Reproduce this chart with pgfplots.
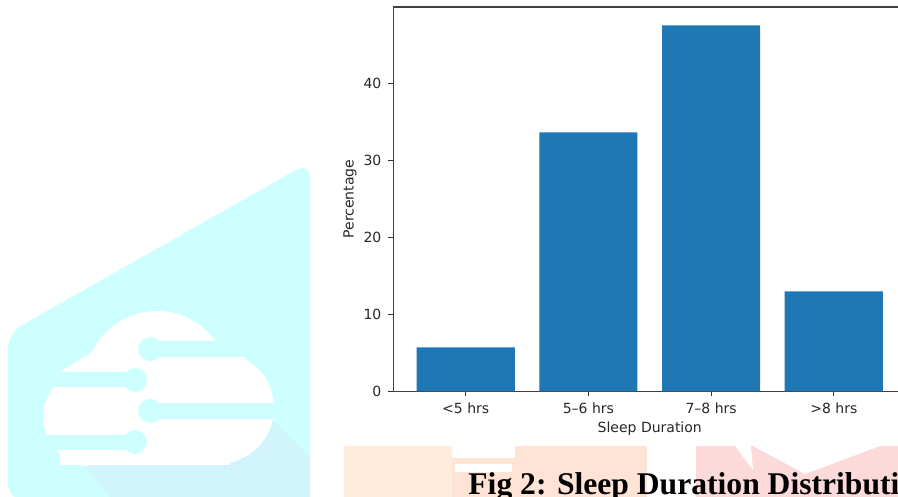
\documentclass[border=0pt]{standalone}
\usepackage{pgfplots}
\pgfplotsset{compat=1.18}
\usepackage{fontspec}
\setmainfont{DejaVu Sans}
\newfontfamily\timesfont{Liberation Serif}
\definecolor{barblue}{RGB}{31,119,180}
\definecolor{wmcyan}{RGB}{205,255,255}
\definecolor{wmshadow}{RGB}{210,244,252}
\definecolor{orA}{RGB}{255,236,218}
\definecolor{orB}{RGB}{255,228,214}
\definecolor{pkA}{RGB}{253,218,218}
\begin{document}
\begin{tikzpicture}
% faint watermark decorations of the page (pixel coordinates, y downward)
\begin{scope}[x=0.5pt,y=-0.5pt,yshift=248.5pt]
  \fill[wmcyan, rounded corners=8] (8,333) -- (310,162) -- (310,500) -- (8,500) -- cycle;
  \fill[wmshadow] (80,460) -- (110,497) -- (310,497) -- (310,457) -- (270,418) -- cycle;
  \fill[white] (157,383) circle (72);
  \fill[white] (218,408) circle (56);
  \fill[white] (60,400) rectangle (230,465);
  \fill[white, rounded corners=25] (43,368) rectangle (130,466);
  \fill[white] (60,372) -- (95,350) -- (120,360) -- (100,385) -- cycle;
  \fill[wmcyan] (150,341) rectangle (285,357);
  \fill[wmcyan] (150,349) circle (12);
  \fill[wmcyan] (30,372) rectangle (135,387);
  \fill[wmcyan] (135,380) circle (12);
  \fill[wmcyan] (150,403) rectangle (285,419);
  \fill[wmcyan] (150,411) circle (12);
  \fill[wmcyan] (30,435) rectangle (135,450);
  \fill[wmcyan] (135,442) circle (12);
  % bottom blocks
  \fill[orA] (344,446) rectangle (452,500);
  \fill[orB] (452,446) rectangle (647,500);
  \fill[white] (452,446) rectangle (515,458);
  \fill[white] (455,464) rectangle (512,472);
  \fill[pkA] (696,446) rectangle (900,500);
  \fill[white] (735,446) -- (751,446) -- (753,470) -- cycle;
  \fill[white] (753,446) -- (880,446) -- (805,474) -- cycle;
\end{scope}
\begin{axis}[
  at={(196.65pt,52.85pt)}, anchor=south west,
  scale only axis, width=256.45pt, height=192.15pt,
  xmin=-0.59, xmax=3.59, ymin=0, ymax=50.0,
  ybar, bar width=0.8,
  xtick={0,1,2,3},
  xticklabels={<5 hrs,5–6 hrs,7–8 hrs,>8 hrs},
  ytick={0,10,20,30,40},
  tick align=outside, tick pos=left,
  major tick length=2.45pt,
  tick style={black!80, line width=0.45pt},
  axis line style={black!75, line width=0.55pt},
  /pgf/number format/assume math mode=true,
  ticklabel style={font=\fontsize{7}{8.4}\selectfont, text=black!85},
  label style={font=\fontsize{7}{8.4}\selectfont, text=black!85},
  xlabel={Sleep Duration},
  ylabel={Percentage},
  xlabel style={at={(axis description cs:0.5,-0.1067)}, anchor=base},
  ylabel style={at={(axis description cs:-0.0844,0.5)}, anchor=center},
]
\addplot[fill=barblue, draw=none] coordinates {(0,5.7) (1,33.7) (2,47.6) (3,13.0)};
\end{axis}
\node[anchor=base west, inner sep=0pt, font=\timesfont\bfseries\fontsize{15.8}{18}\selectfont] at (234pt,1.35pt) {Fig 2: Sleep Duration Distribution};
\pgfresetboundingbox
\useasboundingbox (0,0) rectangle (449pt,248.5pt);
\end{tikzpicture}
\end{document}
